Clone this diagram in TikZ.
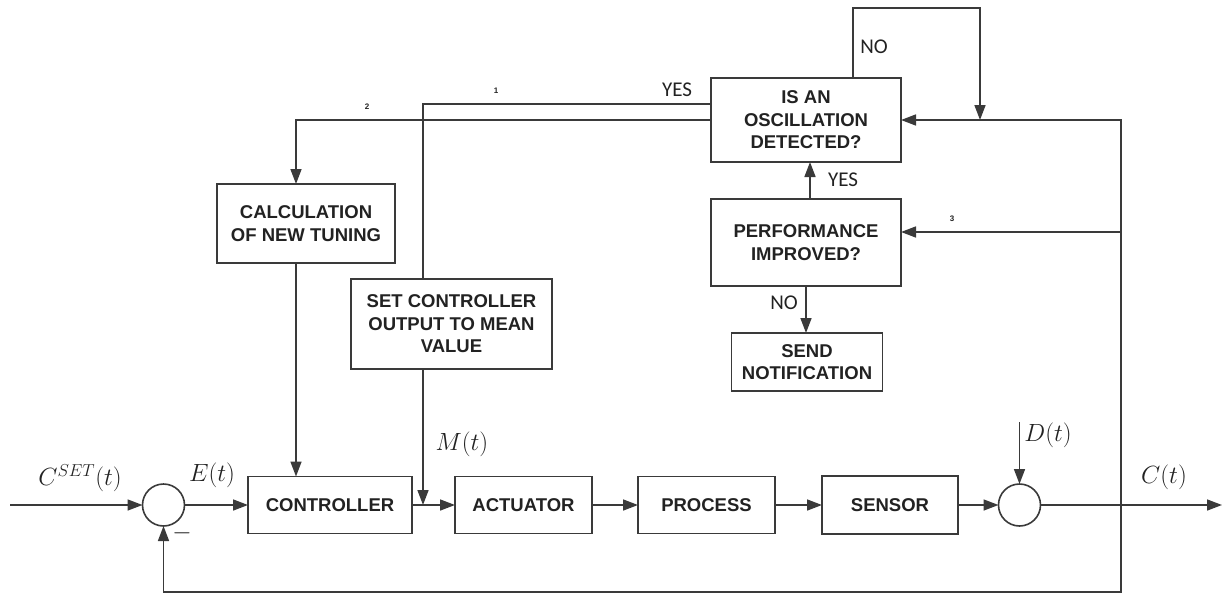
\documentclass[tikz,border=0pt]{standalone}
\usepackage{fontspec}
\setmainfont{Liberation Sans}
\newfontfamily\tagfont{Carlito}
\usetikzlibrary{arrows.meta,calc}
\definecolor{ink}{HTML}{3A3A3A}
\definecolor{txt}{HTML}{222222}
\begin{document}
\begin{tikzpicture}[x=1pt,y=-1pt,
  every node/.style={inner sep=0pt,outer sep=0pt,text=txt},
  blk/.style={draw=ink,line width=1.6pt,fill=white,align=center,
    font=\fontsize{18.5}{22.5}\selectfont\bfseries},
  junc/.style={draw=ink,line width=1.6pt,circle,minimum size=42pt,fill=white},
  wire/.style={draw=ink,line width=1.6pt},
  flow/.style={wire,-{Triangle[length=15pt,width=11pt]}},
  tag/.style={font=\tagfont\fontsize{21}{24}\selectfont},
  sig/.style={font=\fontsize{24}{28}\selectfont},
  num/.style={font=\fontsize{8}{9}\selectfont\bfseries}]
\useasboundingbox (0,0) rectangle (1226,594);

% decision and tuning blocks
\node[blk,minimum width=178pt,minimum height=79pt] (calc) at (306,223.5) {CALCULATION\\OF NEW TUNING};
\node[blk,minimum width=201pt,minimum height=90pt] (setc) at (451.5,324) {SET CONTROLLER\\OUTPUT TO MEAN\\VALUE};
\node[blk,minimum width=190pt,minimum height=84pt] (osc) at (806,120) {IS AN\\OSCILLATION\\DETECTED?};
\node[blk,minimum width=190pt,minimum height=87pt] (perf) at (806,242.5) {PERFORMANCE\\IMPROVED?};
\node[blk,minimum width=151pt,minimum height=58pt] (send) at (807,362) {SEND\\NOTIFICATION};

% control loop
\node[junc] (sum1) at (163.5,505) {};
\node[blk,minimum width=164pt,minimum height=57pt] (ctrl) at (330,505) {CONTROLLER};
\node[blk,minimum width=137pt,minimum height=57pt] (act) at (523.5,505) {ACTUATOR};
\node[blk,minimum width=137pt,minimum height=57pt] (proc) at (706.5,505) {PROCESS};
\node[blk,minimum width=136pt,minimum height=58pt] (sens) at (890,505) {SENSOR};
\node[junc] (sum2) at (1019.5,505) {};

% free ends and bends
\coordinate (in) at (10,505);
\coordinate (out) at (1222,505);
\coordinate (dist) at (1019.5,422);
\coordinate (tap) at (1121,505);
\coordinate (fb) at (1121,592);
\coordinate (tap3) at (1121,232);
\coordinate (tapo) at (1121,120);
\coordinate (no1) at (853,8);
\coordinate (no2) at (980,8);
\coordinate (no3) at (980,120);
\coordinate (l1) at (423,104);
\coordinate (l2) at (296,120);
\coordinate (yx) at (810,0);

% main signal path
\draw[flow] (in) -- (sum1.west);
\draw[flow] (sum1.east) -- (ctrl.west);
\draw[flow] (ctrl.east) -- (act.west);
\draw[flow] (act.east) -- (proc.west);
\draw[flow] (proc.east) -- (sens.west);
\draw[flow] (sens.east) -- (sum2.west);
\draw[flow] (sum2.east) -- (out);
\draw[flow] (dist) -- (sum2.north);
\draw[flow] (tap) -- (fb) -| (sum1.south);

% measured output to the supervisory logic
\draw[flow] (tap) -- (tapo) -- (osc.east);
\draw[flow] (tap3) -- (tap3 -| perf.east);
\draw[flow] (osc.north -| no1) -- (no1) -- (no2) -- (no3);
\draw[flow] (perf.north -| yx) -- (osc.south -| yx);
\draw[flow] (perf.south) -- (perf.south |- send.north);

% branches back to the loop
\draw[wire] (setc.north -| l1) -- (l1) -- (l1 -| osc.west);
\draw[flow] (osc.west) -- (l2) -- (l2 |- calc.north);
\draw[flow] (calc.south -| l2) -- (ctrl.north -| l2);
\draw[flow] (setc.south -| l1) -- (l1 |- ctrl.east);

% signal names
\node[sig] (lcset) at (80,478) {$C^{SET}(t)$};
\node[sig] (le) at (212,475) {$E(t)$};
\node[sig] (lminus) at (182,533) {$-$};
\node[sig] (lm) at (462,444) {$M(t)$};
\node[sig] (ld) at (1048,435) {$D(t)$};
\node[sig] (lc) at (1164,477) {$C(t)$};

% branch labels
\node[tag] (yes1) at (677,90) {YES};
\node[tag] (no1t) at (874,47) {NO};
\node[tag] (yes2) at (843,180) {YES};
\node[tag] (no2t) at (784,303) {NO};
\node[num] (n1) at (496,91) {1};
\node[num] (n2) at (367,107) {2};
\node[num] (n3) at (952,219) {3};
\end{tikzpicture}
\end{document}
